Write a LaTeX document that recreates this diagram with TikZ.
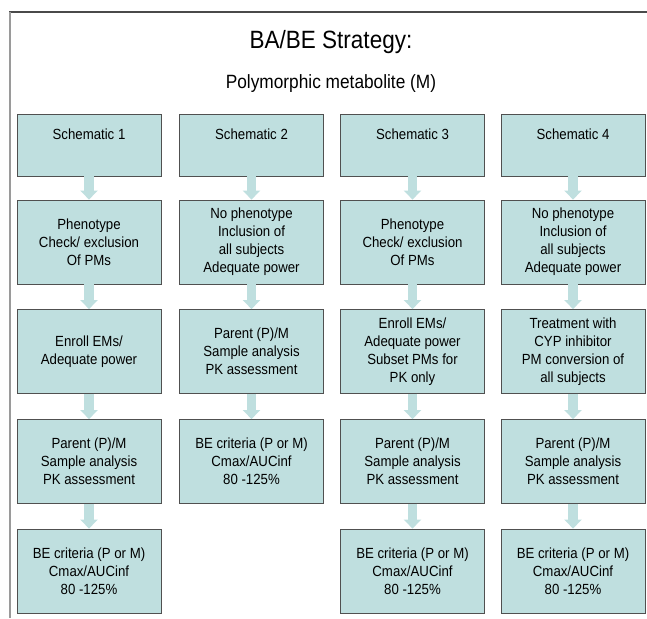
\documentclass[tikz,border=0pt]{standalone}
\usepackage{fontspec}
\setmainfont[FakeStretch=0.9]{Liberation Sans}
\usetikzlibrary{arrows.meta}
\definecolor{box-fill}{HTML}{BFDFDF}
\definecolor{box-line}{HTML}{505050}
\definecolor{frame-top}{HTML}{4A4A4A}
\definecolor{frame-side}{HTML}{9A9A9A}

\begin{document}
\begin{tikzpicture}[x=1pt, y=-1pt,
      every node/.style={font=\fontsize{14.7}{18}\selectfont},
      flowbox/.style={draw=box-line, fill=box-fill, line width=0.8pt,
        minimum width=144pt, minimum height=84pt, align=center, inner sep=2pt},
      headbox/.style={flowbox, minimum height=62pt, text depth=22pt},
      flowarrow/.style={box-fill, line width=9.5pt,
        -{Triangle[length=9pt, width=17pt]}}]
    \useasboundingbox (0,0) rectangle (647,618);
    % frame
    \draw[frame-top, line width=1.5pt] (9,12) -- (647,12);
    \draw[frame-side, line width=2.2pt] (10,12) -- (10,618);
    \node[font=\fontsize{25}{30}\selectfont, anchor=base] (title) at (331,48.5) {BA/BE Strategy:};
    \node[font=\fontsize{19.2}{23}\selectfont, anchor=base] (subtitle) at (331,88) {Polymorphic metabolite (M)};

    % schematic 1
    \node[headbox] (sch1) at (89,145) {Schematic 1};
    \node[flowbox] (pheno1) at (89,242) {Phenotype\\Check/ exclusion\\Of PMs};
    \node[flowbox] (enroll1) at (89,351.5) {Enroll EMs/\\Adequate power};
    \node[flowbox] (pk1) at (89,461.5) {Parent (P)/M\\Sample analysis\\PK assessment};
    \node[flowbox] (be1) at (89,571) {BE criteria (P or M)\\Cmax/AUCinf\\80 -125\%};

    % schematic 2
    \node[headbox] (sch2) at (251.5,145) {Schematic 2};
    \node[flowbox] (pheno2) at (251.5,242) {No phenotype\\Inclusion of\\all subjects\\Adequate power};
    \node[flowbox] (pk2) at (251.5,351.5) {Parent (P)/M\\Sample analysis\\PK assessment};
    \node[flowbox] (be2) at (251.5,461.5) {BE criteria (P or M)\\Cmax/AUCinf\\80 -125\%};

    % schematic 3
    \node[headbox] (sch3) at (412.5,145) {Schematic 3};
    \node[flowbox] (pheno3) at (412.5,242) {Phenotype\\Check/ exclusion\\Of PMs};
    \node[flowbox] (enroll3) at (412.5,351.5) {Enroll EMs/\\Adequate power\\Subset PMs for\\PK only};
    \node[flowbox] (pk3) at (412.5,461.5) {Parent (P)/M\\Sample analysis\\PK assessment};
    \node[flowbox] (be3) at (412.5,571) {BE criteria (P or M)\\Cmax/AUCinf\\80 -125\%};

    % schematic 4
    \node[headbox] (sch4) at (573,145) {Schematic 4};
    \node[flowbox] (pheno4) at (573,242) {No phenotype\\Inclusion of\\all subjects\\Adequate power};
    \node[flowbox] (treat4) at (573,351.5) {Treatment with\\CYP inhibitor\\PM conversion of\\all subjects};
    \node[flowbox] (pk4) at (573,461.5) {Parent (P)/M\\Sample analysis\\PK assessment};
    \node[flowbox] (be4) at (573,571) {BE criteria (P or M)\\Cmax/AUCinf\\80 -125\%};

    \draw[flowarrow] (sch1) -- (pheno1);
    \draw[flowarrow] (pheno1) -- (enroll1);
    \draw[flowarrow] (enroll1) -- (pk1);
    \draw[flowarrow] (pk1) -- (be1);
    \draw[flowarrow] (sch2) -- (pheno2);
    \draw[flowarrow] (pheno2) -- (pk2);
    \draw[flowarrow] (pk2) -- (be2);
    \draw[flowarrow] (sch3) -- (pheno3);
    \draw[flowarrow] (pheno3) -- (enroll3);
    \draw[flowarrow] (enroll3) -- (pk3);
    \draw[flowarrow] (pk3) -- (be3);
    \draw[flowarrow] (sch4) -- (pheno4);
    \draw[flowarrow] (pheno4) -- (treat4);
    \draw[flowarrow] (treat4) -- (pk4);
    \draw[flowarrow] (pk4) -- (be4);
  \end{tikzpicture}
\end{document}
